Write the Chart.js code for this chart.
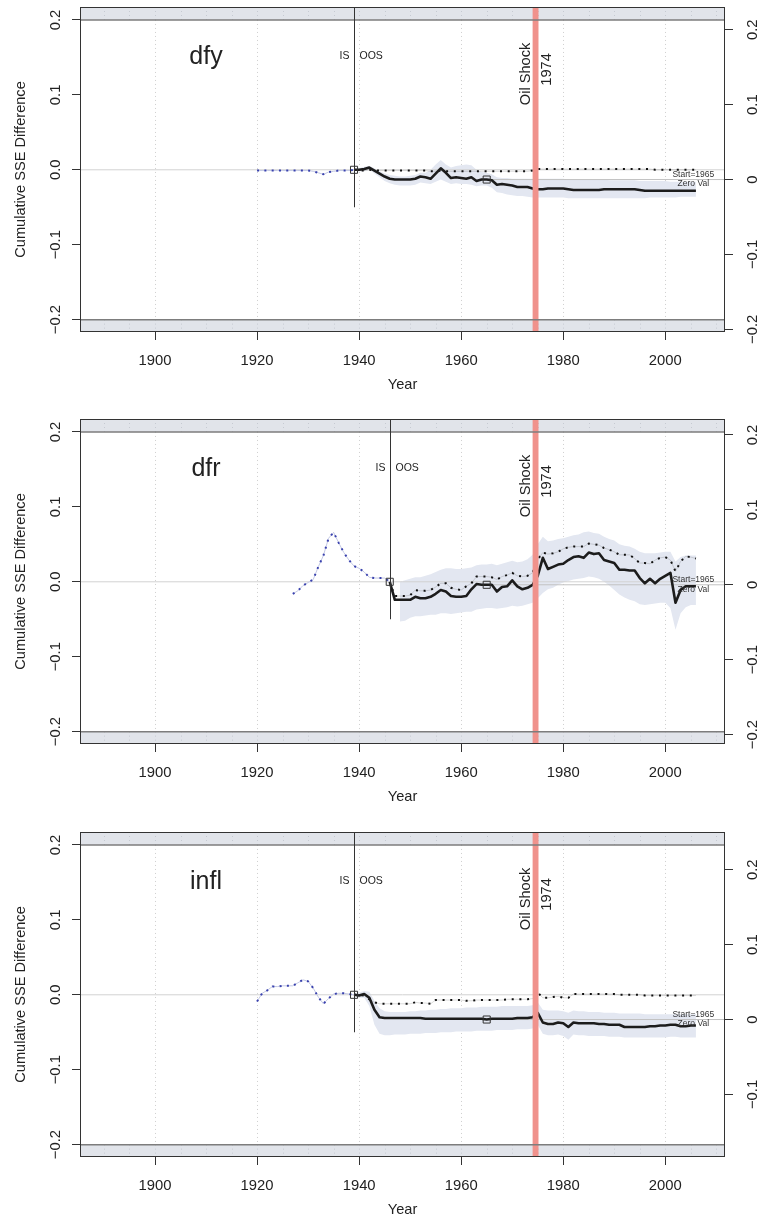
<!DOCTYPE html>
<html>
<head>
<meta charset="utf-8">
<script src="https://cdn.jsdelivr.net/npm/chart.js@4.4.1/dist/chart.umd.min.js"></script>
<style>
  html, body { margin: 0; padding: 0; background: #fff; overflow: hidden; }
  canvas { position: absolute; left: 0; }
</style>
</head>
<body>
<canvas id="p0" width="760" height="412" style="top:0px"></canvas>
<canvas id="p1" width="760" height="412" style="top:412px"></canvas>
<canvas id="p2" width="760" height="412" style="top:825px"></canvas>
<script>
// panel names and where each series starts
const names = ['dfy', 'dfr', 'infl'];
const blueStart = [1920, 1927, 1920];
const oosStart = [1939, 1946, 1939];
const bandStart = [1939, 1948, 1939];
const markYear = 1965;
const shockYear = 1974;

const xTicks = [1900, 1920, 1940, 1960, 1980, 2000];
const yTicks = [-0.2, -0.1, 0, 0.1, 0.2];
const xRange = [1885.3, 2011.7];
const yRange = [-0.2165, 0.2173];

// in-sample stretch (blue dotted)
const dfyIS = [-0.001, -0.001, -0.001, -0.001, -0.001, -0.001, -0.001, -0.001, -0.001, -0.001,
  -0.001, -0.002, -0.004, -0.006, -0.003, -0.002, -0.001, -0.001, -0.001, 0];
const dfrIS = [-0.016, -0.012, -0.005, -0.001, 0.003, 0.020, 0.035, 0.058, 0.066, 0.052,
  0.039, 0.029, 0.021, 0.018, 0.013, 0.006, 0.005, 0.005, 0.005, 0];
const inflIS = [-0.009, 0.002, 0.006, 0.011, 0.011, 0.012, 0.012, 0.012, 0.016, 0.020,
  0.018, 0.009, -0.003, -0.012, -0.005, 0.001, 0.002, 0.002, 0.001, 0];

// out-of-sample cumulative SSE difference (solid)
const dfySSE = [0, 0, 0.001, 0.003, -0.001, -0.005, -0.009, -0.012, -0.013, -0.013,
  -0.013, -0.013, -0.012, -0.009, -0.010, -0.012, -0.005, 0.002, -0.004, -0.011,
  -0.010, -0.011, -0.012, -0.010, -0.015, -0.013, -0.013, -0.014, -0.020, -0.019,
  -0.020, -0.021, -0.023, -0.023, -0.023, -0.025, -0.026, -0.026, -0.025, -0.025,
  -0.025, -0.025, -0.026, -0.027, -0.027, -0.027, -0.027, -0.027, -0.027, -0.026,
  -0.026, -0.026, -0.026, -0.026, -0.026, -0.026, -0.027, -0.028, -0.028, -0.028,
  -0.028, -0.028, -0.028, -0.028, -0.028, -0.028, -0.028, -0.028];
const dfrSSE = [0, -0.024, -0.024, -0.024, -0.024, -0.020, -0.022, -0.022, -0.020, -0.016,
  -0.011, -0.013, -0.019, -0.020, -0.020, -0.019, -0.010, -0.003, -0.004, -0.004,
  -0.004, -0.013, -0.007, -0.006, 0.002, -0.006, -0.010, -0.008, -0.004, 0.008,
  0.032, 0.017, 0.020, 0.023, 0.024, 0.029, 0.033, 0.034, 0.032, 0.039,
  0.037, 0.038, 0.029, 0.027, 0.025, 0.016, 0.016, 0.015, 0.015, 0.005,
  -0.002, 0.004, -0.002, 0.004, 0.008, 0.012, -0.028, -0.011, -0.006, -0.006,
  -0.006];
const inflSSE = [0, -0.001, 0.001, -0.004, -0.020, -0.030, -0.031, -0.031, -0.031, -0.031,
  -0.031, -0.031, -0.031, -0.031, -0.032, -0.032, -0.032, -0.032, -0.032, -0.032,
  -0.032, -0.032, -0.032, -0.032, -0.032, -0.032, -0.033, -0.032, -0.032, -0.032,
  -0.032, -0.032, -0.031, -0.031, -0.031, -0.030, -0.024, -0.037, -0.039, -0.039,
  -0.037, -0.038, -0.043, -0.037, -0.038, -0.038, -0.038, -0.038, -0.039, -0.039,
  -0.040, -0.040, -0.040, -0.043, -0.043, -0.043, -0.043, -0.043, -0.042, -0.042,
  -0.041, -0.041, -0.040, -0.040, -0.042, -0.042, -0.041, -0.041];

// start-1965 comparison (black dotted)
const dfyAlt = [0, -0.001, -0.001, 0.000, -0.001, -0.001, -0.001, -0.001, -0.001, -0.001,
  -0.001, -0.001, -0.001, -0.001, -0.001, -0.002, -0.002, -0.001, -0.002, -0.002,
  -0.002, -0.002, -0.002, -0.002, -0.002, -0.002, -0.002, -0.002, -0.002, -0.002,
  -0.002, -0.002, -0.002, -0.002, -0.002, -0.001, 0.001, 0.001, 0.001, 0.001,
  0.001, 0.001, 0.001, 0.001, 0.001, 0.001, 0.001, 0.001, 0.001, 0.001,
  0.001, 0.001, 0.001, 0.001, 0.001, 0.001, 0.001, 0.001, 0.001, 0.000,
  0.000, 0.000, 0.000, 0.000, 0.000, 0.000, 0.000, 0.000];
const dfrAlt = [0, -0.019, -0.019, -0.019, -0.018, -0.011, -0.012, -0.012, -0.011, -0.007,
  -0.002, -0.002, -0.008, -0.010, -0.011, -0.006, -0.002, 0.007, 0.007, 0.007,
  0.006, 0.003, 0.007, 0.009, 0.012, 0.008, 0.007, 0.008, 0.012, 0.030,
  0.039, 0.037, 0.038, 0.040, 0.044, 0.046, 0.047, 0.047, 0.047, 0.051,
  0.050, 0.049, 0.045, 0.043, 0.040, 0.036, 0.036, 0.036, 0.031, 0.025,
  0.025, 0.024, 0.029, 0.032, 0.033, 0.029, 0.014, 0.027, 0.034, 0.033,
  0.031];
const inflAlt = [0, 0.000, -0.001, -0.006, -0.010, -0.012, -0.012, -0.012, -0.012, -0.012,
  -0.012, -0.012, -0.010, -0.011, -0.011, -0.012, -0.007, -0.007, -0.007, -0.007,
  -0.007, -0.007, -0.008, -0.008, -0.007, -0.007, -0.007, -0.007, -0.007, -0.007,
  -0.006, -0.006, -0.006, -0.006, -0.006, -0.005, 0.003, -0.004, -0.004, -0.003,
  -0.002, -0.004, -0.004, 0.001, 0.001, 0.001, 0.001, 0.001, 0.001, 0.001,
  0.001, 0.001, 0.000, 0.000, 0.000, 0.000, 0.000, -0.001, -0.001, -0.001,
  -0.001, -0.001, -0.001, -0.001, -0.001, -0.001, -0.001, -0.001];

// shaded band, upper and lower edge
const dfyHi = [0.001, 0.002, 0.004, 0.005, 0.002, -0.002, -0.005, -0.007, -0.008, -0.009,
  -0.009, -0.008, -0.007, -0.004, -0.004, 0.000, 0.007, 0.013, 0.007, 0.003,
  0.005, 0.006, 0.007, 0.006, 0.000, -0.003, -0.004, -0.006, -0.010, -0.011,
  -0.011, -0.012, -0.012, -0.012, -0.012, -0.012, -0.012, -0.012, -0.012, -0.012,
  -0.012, -0.012, -0.013, -0.013, -0.013, -0.013, -0.013, -0.013, -0.013, -0.013,
  -0.014, -0.014, -0.014, -0.014, -0.014, -0.014, -0.015, -0.015, -0.015, -0.015,
  -0.015, -0.015, -0.016, -0.016, -0.016, -0.016, -0.016, -0.016];
const dfyLo = [-0.001, -0.002, -0.002, 0.000, -0.005, -0.010, -0.015, -0.018, -0.020, -0.021,
  -0.021, -0.021, -0.020, -0.017, -0.018, -0.019, -0.016, -0.013, -0.016, -0.019,
  -0.018, -0.019, -0.019, -0.020, -0.022, -0.021, -0.021, -0.024, -0.030, -0.031,
  -0.033, -0.034, -0.035, -0.035, -0.036, -0.037, -0.037, -0.037, -0.037, -0.037,
  -0.037, -0.037, -0.038, -0.038, -0.038, -0.038, -0.038, -0.038, -0.038, -0.038,
  -0.038, -0.038, -0.038, -0.038, -0.038, -0.038, -0.038, -0.038, -0.037, -0.037,
  -0.037, -0.037, -0.037, -0.037, -0.036, -0.036, -0.036, -0.036];
const dfrHi = [0.000, 0.002, 0.004, 0.006, 0.006, 0.008, 0.010, 0.013, 0.016, 0.018,
  0.018, 0.017, 0.017, 0.018, 0.019, 0.022, 0.023, 0.023, 0.024, 0.022,
  0.024, 0.026, 0.028, 0.026, 0.027, 0.030, 0.036, 0.050, 0.060, 0.054,
  0.055, 0.057, 0.058, 0.060, 0.062, 0.063, 0.066, 0.067, 0.065, 0.064,
  0.060, 0.057, 0.055, 0.050, 0.048, 0.047, 0.044, 0.040, 0.038, 0.038,
  0.038, 0.039, 0.040, 0.040, 0.027, 0.033, 0.035, 0.035, 0.035];
const dfrLo = [-0.053, -0.052, -0.048, -0.046, -0.046, -0.045, -0.044, -0.044, -0.042, -0.042,
  -0.043, -0.042, -0.041, -0.040, -0.040, -0.037, -0.036, -0.035, -0.035, -0.036,
  -0.035, -0.034, -0.032, -0.033, -0.032, -0.030, -0.028, -0.022, -0.015, -0.010,
  -0.008, -0.004, -0.001, 0.001, 0.003, 0.004, 0.005, 0.007, 0.006, 0.004,
  0.000, -0.005, -0.011, -0.017, -0.021, -0.024, -0.026, -0.030, -0.031, -0.030,
  -0.029, -0.028, -0.028, -0.035, -0.064, -0.042, -0.034, -0.031, -0.031];
const inflHi = [0.001, 0.003, 0.005, 0.004, -0.008, -0.018, -0.022, -0.023, -0.023, -0.023,
  -0.023, -0.022, -0.022, -0.021, -0.021, -0.020, -0.020, -0.019, -0.019, -0.018,
  -0.018, -0.018, -0.017, -0.017, -0.017, -0.016, -0.016, -0.016, -0.016, -0.015,
  -0.015, -0.015, -0.015, -0.015, -0.015, -0.014, -0.010, -0.020, -0.021, -0.021,
  -0.021, -0.022, -0.024, -0.021, -0.022, -0.022, -0.023, -0.023, -0.023, -0.024,
  -0.024, -0.024, -0.025, -0.025, -0.025, -0.025, -0.025, -0.026, -0.026, -0.026,
  -0.026, -0.026, -0.026, -0.026, -0.026, -0.026, -0.026, -0.026];
const inflLo = [-0.001, -0.004, -0.004, -0.015, -0.040, -0.052, -0.054, -0.054, -0.053, -0.053,
  -0.053, -0.052, -0.052, -0.052, -0.051, -0.051, -0.051, -0.050, -0.050, -0.050,
  -0.049, -0.049, -0.049, -0.049, -0.048, -0.048, -0.048, -0.048, -0.047, -0.047,
  -0.047, -0.047, -0.046, -0.046, -0.046, -0.045, -0.040, -0.052, -0.054, -0.054,
  -0.053, -0.055, -0.060, -0.053, -0.054, -0.054, -0.055, -0.055, -0.055, -0.055,
  -0.056, -0.056, -0.056, -0.057, -0.057, -0.057, -0.057, -0.057, -0.057, -0.057,
  -0.057, -0.057, -0.056, -0.056, -0.057, -0.057, -0.057, -0.057];

const panels = [
  { is: dfyIS, sse: dfySSE, alt: dfyAlt, hi: dfyHi, lo: dfyLo },
  { is: dfrIS, sse: dfrSSE, alt: dfrAlt, hi: dfrHi, lo: dfrLo },
  { is: inflIS, sse: inflSSE, alt: inflAlt, hi: inflHi, lo: inflLo }
];

const FONT = "'Liberation Sans', Arial, Helvetica, sans-serif";
const INK = '#222';
Chart.defaults.font.family = FONT;

const pts = (start, vals) => vals.map((v, i) => ({ x: start + i, y: v }));
const minus = v => (v < 0 ? '\u2212' : '') + Math.abs(v).toFixed(1);

function rotText(ctx, txt, px, py, align, base) {
  ctx.save();
  ctx.translate(px, py);
  ctx.rotate(-Math.PI / 2);
  ctx.textAlign = align;
  ctx.textBaseline = base;
  ctx.fillText(txt, 0, 0);
  ctx.restore();
}

function vline(ctx, px, y0, y1) {
  ctx.beginPath(); ctx.moveTo(px, y0); ctx.lineTo(px, y1); ctx.stroke();
}

// bands, grid, box, notes and rotated axis labels
const decor = {
  id: 'decor',
  beforeDatasetsDraw(chart, args, o) {
    const { ctx, chartArea: a, scales: { x, y } } = chart;
    const yt = y.getPixelForValue(0.2), yb = y.getPixelForValue(-0.2);
    ctx.save();
    ctx.fillStyle = '#e1e4ea';
    ctx.fillRect(a.left, a.top, a.width, yt - a.top);
    ctx.fillRect(a.left, yb, a.width, a.bottom - yb);
    ctx.lineWidth = 1;
    ctx.setLineDash([1, 3]);
    ctx.strokeStyle = '#c6cad2';
    for (let yr = 1890; yr <= 2010; yr += 5) {
      const px = Math.round(x.getPixelForValue(yr)) + 0.5;
      vline(ctx, px, a.top, yt);
      vline(ctx, px, yb, a.bottom);
    }
    ctx.strokeStyle = '#cfcfcf';
    xTicks.forEach(t => {
      const px = Math.round(x.getPixelForValue(t)) + 0.5;
      vline(ctx, px, yt, yb);
    });
    ctx.restore();
  },
  afterDatasetsDraw(chart, args, o) {
    const p = panels[o.idx];
    const { ctx, chartArea: a, scales: { x, y } } = chart;
    const yt = y.getPixelForValue(0.2), yb = y.getPixelForValue(-0.2);
    ctx.save();
    // oil shock bar
    const s0 = x.getPixelForValue(shockYear), s1 = x.getPixelForValue(shockYear + 1.15);
    ctx.fillStyle = '#f0928c';
    ctx.fillRect(s0, a.top, s1 - s0, a.height);
    // limits at +-0.2
    ctx.strokeStyle = '#7d7d7d';
    ctx.lineWidth = 1.5;
    ctx.beginPath();
    ctx.moveTo(a.left, yt); ctx.lineTo(a.right, yt);
    ctx.moveTo(a.left, yb); ctx.lineTo(a.right, yb);
    ctx.stroke();
    // IS / OOS split
    const xo = Math.round(x.getPixelForValue(oosStart[o.idx])) + 0.5;
    ctx.strokeStyle = '#333';
    ctx.lineWidth = 1;
    vline(ctx, xo, a.top, y.getPixelForValue(-0.05));
    // box
    ctx.strokeRect(a.left + 0.5, a.top + 0.5, a.width - 1, a.height - 1);

    ctx.fillStyle = INK;
    ctx.textAlign = 'center';
    ctx.textBaseline = 'middle';
    ctx.font = '25px ' + FONT;
    ctx.fillText(names[o.idx], x.getPixelForValue(1910), y.getPixelForValue(0.15));
    ctx.font = '10.5px ' + FONT;
    ctx.textAlign = 'right';
    ctx.fillText('IS', xo - 5, y.getPixelForValue(0.152));
    ctx.textAlign = 'left';
    ctx.fillText('OOS', xo + 5, y.getPixelForValue(0.152));

    ctx.font = '14.6px ' + FONT;
    rotText(ctx, 'Oil Shock', s0 - 2.4, y.getPixelForValue(0.128), 'center', 'alphabetic');
    rotText(ctx, String(shockYear), s0 + 18.3, y.getPixelForValue(0.134), 'center', 'alphabetic');

    const v65 = p.sse[markYear - oosStart[o.idx]];
    const ym = y.getPixelForValue(v65);
    ctx.font = '8.5px ' + FONT;
    ctx.fillStyle = '#333';
    ctx.textAlign = 'center';
    ctx.fillText('Start=' + markYear, x.getPixelForValue(2005.5), ym - 5);
    ctx.fillText('Zero Val', x.getPixelForValue(2005.5), ym + 4.5);
    ctx.restore();
  },
  afterDraw(chart, args, o) {
    const { ctx, chartArea: a, scales: { y, y2 } } = chart;
    ctx.save();
    ctx.fillStyle = INK;
    ctx.font = '14.8px ' + FONT;
    y.ticks.forEach(t => rotText(ctx, minus(t.value), 60, y.getPixelForValue(t.value), 'center', 'alphabetic'));
    y2.ticks.forEach(t => rotText(ctx, t.value === 0 ? '0' : minus(t.value), 757, y2.getPixelForValue(t.value), 'center', 'alphabetic'));
    ctx.font = '14.6px ' + FONT;
    rotText(ctx, 'Cumulative SSE Difference', 24.5, (a.top + a.bottom) / 2, 'center', 'alphabetic');
    ctx.restore();
  }
};

function makePanel(idx) {
  const p = panels[idx];
  const o0 = oosStart[idx];
  const v65 = p.sse[markYear - o0];
  const tickGrid = { display: true, drawOnChartArea: false, drawTicks: true, tickLength: 8, tickColor: '#333', tickWidth: 1 };
  new Chart(document.getElementById('p' + idx), {
    type: 'line',
    data: {
      datasets: [
        { data: [{ x: o0, y: p.sse[0] }, { x: markYear, y: v65 }], showLine: false, pointStyle: 'rect',
          pointRadius: 5, borderColor: '#333', borderWidth: 1, backgroundColor: 'rgba(0,0,0,0)', order: 1 },
        { data: pts(o0, p.sse), borderColor: '#1c1c1c', borderWidth: 2.6, pointRadius: 0, borderJoinStyle: 'round', order: 3 },
        { data: pts(o0, p.alt), borderColor: '#111', borderWidth: 2, borderDash: [2, 5.7], borderCapStyle: 'butt', pointRadius: 0, order: 4 },
        { data: pts(o0, p.alt), borderColor: 'rgba(60,60,60,0.18)', borderWidth: 1, pointRadius: 0, order: 5 },
        { data: pts(blueStart[idx], p.is), borderColor: '#3a42ae', borderWidth: 2, borderDash: [2, 5.3], borderCapStyle: 'butt', pointRadius: 0, order: 6 },
        { data: pts(blueStart[idx], p.is), borderColor: '#c3c8e4', borderWidth: 1, pointRadius: 0, order: 7 },
        { data: [{ x: markYear, y: v65 }, { x: xRange[1], y: v65 }], borderColor: '#c2c2c2', borderWidth: 1, pointRadius: 0, order: 8 },
        { data: [{ x: xRange[0], y: 0 }, { x: xRange[1], y: 0 }], borderColor: '#d2d2d2', borderWidth: 1, pointRadius: 0, order: 8 },
        { data: pts(bandStart[idx], p.hi), borderColor: 'rgba(0,0,0,0)', borderWidth: 0, pointRadius: 0,
          fill: '+1', backgroundColor: '#e3e7f1', order: 10 },
        { data: pts(bandStart[idx], p.lo), borderColor: 'rgba(0,0,0,0)', borderWidth: 0, pointRadius: 0, fill: false, order: 10 }
      ]
    },
    options: {
      responsive: false,
      animation: false,
      events: [],
      layout: { padding: { top: 7, left: 0, right: 0, bottom: 0 } },
      elements: { line: { tension: 0 } },
      plugins: { legend: { display: false }, tooltip: { enabled: false }, decor: { idx } },
      scales: {
        x: {
          type: 'linear', position: 'bottom', min: xRange[0], max: xRange[1],
          afterBuildTicks: s => { s.ticks = xTicks.map(v => ({ value: v })); },
          afterFit: s => { s.height = 80; },
          ticks: { callback: v => String(v), color: INK, font: { size: 14.8 }, padding: 12, maxRotation: 0 },
          grid: tickGrid,
          border: { display: false },
          title: { display: true, text: 'Year', color: INK, font: { size: 14.6 }, padding: { top: 0, bottom: 18 } }
        },
        y: {
          position: 'left', min: yRange[0], max: yRange[1],
          afterBuildTicks: s => { s.ticks = yTicks.map(v => ({ value: v })); },
          afterFit: s => { s.width = 80; },
          ticks: { display: false },
          grid: tickGrid,
          border: { display: false }
        },
        y2: {
          position: 'right', min: yRange[0] - v65, max: yRange[1] - v65,
          afterBuildTicks: s => { s.ticks = yTicks.filter(v => v >= s.min && v <= s.max).map(v => ({ value: v })); },
          afterFit: s => { s.width = 35; },
          ticks: { display: false },
          grid: tickGrid,
          border: { display: false }
        }
      }
    },
    plugins: [decor]
  });
}

[0, 1, 2].forEach(makePanel);
</script>
</body>
</html>
